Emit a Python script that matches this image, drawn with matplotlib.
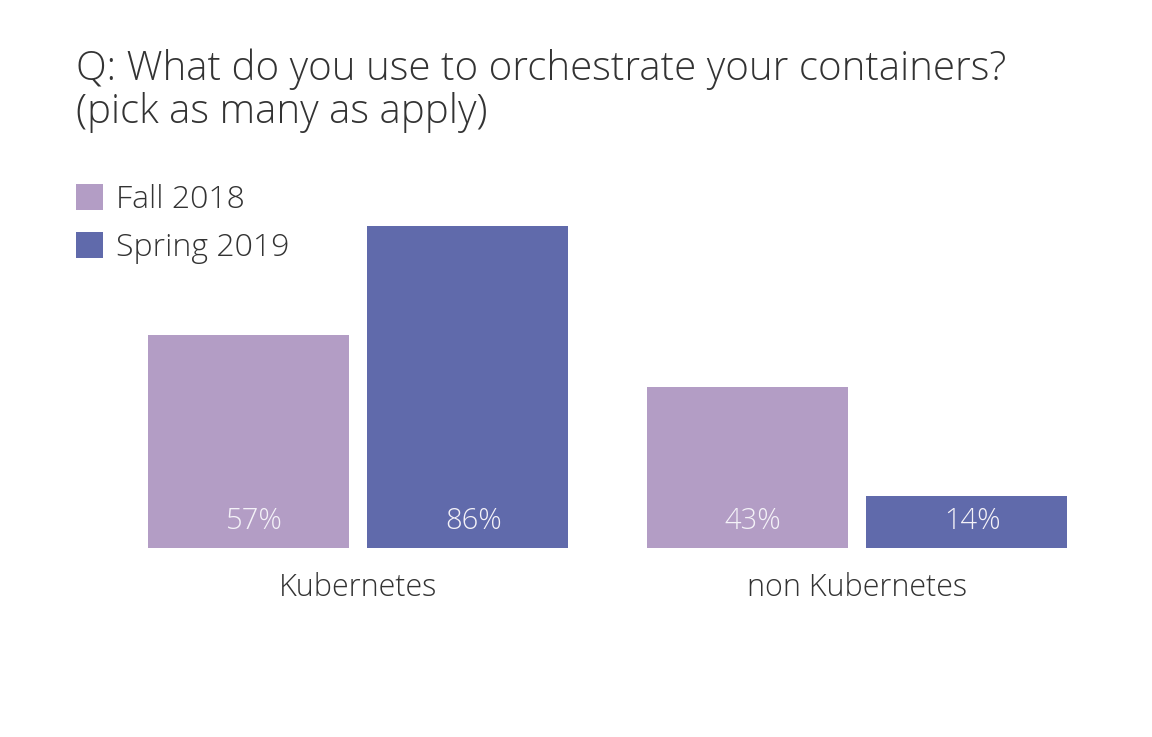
import numpy as np
import matplotlib.pyplot as plt
from matplotlib.patches import Patch

plt.rcParams['font.family'] = ['Open Sans', 'DejaVu Sans']

# data
categories = ['Kubernetes', 'non Kubernetes']
series_names = ['Fall 2018', 'Spring 2019']
fall_2018 = [57, 43]
spring_2019 = [86, 14]

colors = ['#b39dc5', '#606aab']
text_color = '#333333'

fig = plt.figure(figsize=(11.52, 7.37), dpi=100)
ax = fig.add_axes([0, 0.2565, 1, 0.5074])

x = np.arange(len(categories))
offset = 0.22
width = 0.403

for vals, off, col in [(fall_2018, -offset, colors[0]), (spring_2019, offset, colors[1])]:
    bars = ax.bar(x + off, vals, width=width, color=col)
    for b, v in zip(bars, vals):
        ax.text(b.get_x() + b.get_width() / 2 + 0.012, 5.1, f'{v}%', ha='center', va='baseline',
                color='#f4f2f8', fontsize=21, fontweight='light')

ax.set_xlim(-0.7174, 1.591)
ax.set_ylim(0, 100)
ax.set_xticks(x)
ax.set_xticklabels(categories, fontsize=22, color=text_color, fontweight='light')
ax.tick_params(axis='x', length=0, pad=17)
ax.set_yticks([])
for s in ax.spines.values():
    s.set_visible(False)

# title (two lines)
fig.text(0.066, 0.8915, 'Q: What do you use to orchestrate your containers?',
         ha='left', va='baseline', fontsize=29, color=text_color, fontweight='light')
fig.text(0.066, 0.8331, '(pick as many as apply)',
         ha='left', va='baseline', fontsize=29, color=text_color, fontweight='light')

# legend
handles = [Patch(facecolor=c, edgecolor='none') for c in colors]
fig.legend(handles, series_names, loc='upper left', bbox_to_anchor=(0.066, 0.75),
           frameon=False, prop={'size': 23, 'weight': 'light'}, handlelength=0.85, handleheight=0.85,
           handletextpad=0.4, labelspacing=0.5, labelcolor=text_color, borderpad=0,
           borderaxespad=0)

fig.savefig('out.png', dpi=100, facecolor='white')
